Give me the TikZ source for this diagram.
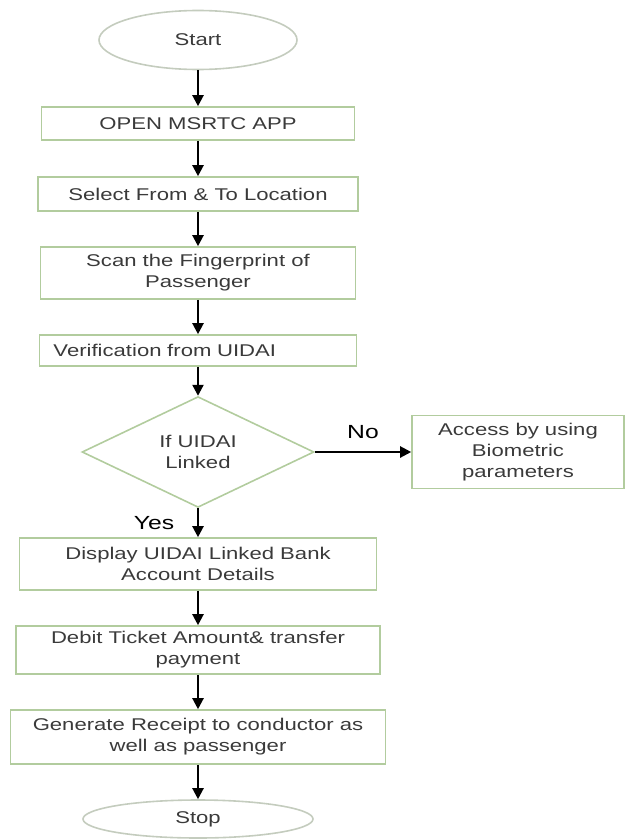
\documentclass[tikz,border=0pt]{standalone}
\usepackage{fontspec}
\setmainfont{Liberation Sans}[FakeStretch=1.3]
\usepackage{xcolor}
\usepackage{tikz}
\usetikzlibrary{shapes.geometric, arrows.meta, positioning}

\definecolor{boxline}{RGB}{178,204,158}
\definecolor{ovalline}{RGB}{196,204,190}
\definecolor{txtgray}{RGB}{58,58,58}

\begin{document}
\begin{tikzpicture}[
    x=0.5pt, y=-0.5pt,
    every node/.style={text=txtgray, font=\fontsize{8.5}{10.5}\selectfont},
    process/.style={rectangle, draw=boxline, line width=0.8pt, align=center, inner sep=2pt},
    terminal/.style={ellipse, draw=ovalline, line width=0.8pt, inner sep=0pt},
    decision/.style={diamond, draw=boxline, line width=0.8pt, inner sep=0pt, align=center},
    arrow/.style={-{Triangle[length=5.5pt, width=5.5pt]}, line width=1.1pt, black},
    lbl/.style={font=\fontsize{9.5}{11}\selectfont, text=black}
]
\useasboundingbox (0,0) rectangle (627,840);

\node[terminal, minimum width=99pt, minimum height=29.5pt] (start) at (198,40) {Start};
\node[process, minimum width=156.5pt, minimum height=16.5pt] (open) at (198,123.5) {OPEN MSRTC APP};
\node[process, minimum width=160pt, minimum height=17pt] (select) at (198,194) {Select From \& To Location};
\node[process, minimum width=157.5pt, minimum height=26pt] (scan) at (198,273) {Scan the Fingerprint of\\Passenger};
\node[process, minimum height=15.5pt, text width=144.5pt, inner xsep=7pt, align=left] (verify) at (198,350.5) {Verification from UIDAI};
\node[decision, minimum width=116pt, minimum height=49pt] (linked) at (198,452) {If UIDAI\\Linked};
\node[process, minimum width=106pt, minimum height=36.5pt] (access) at (518,452) {Access by using\\Biometric\\parameters};
\node[process, minimum width=178.5pt, minimum height=26pt] (display) at (198,564) {Display UIDAI Linked Bank\\Account Details};
\node[process, minimum width=182pt, minimum height=24pt] (debit) at (198,650) {Debit Ticket Amount\& transfer\\payment};
\node[process, minimum width=187.5pt, minimum height=27pt] (receipt) at (198,737) {Generate Receipt to conductor as\\well as passenger};
\node[terminal, minimum width=115pt, minimum height=19pt] (stop) at (198,819) {Stop};

\draw[arrow] (start) -- (open);
\draw[arrow] (open) -- (select);
\draw[arrow] (select) -- (scan);
\draw[arrow] (scan) -- (verify);
\draw[arrow] (verify) -- (linked);
\draw[arrow] (linked) -- node[lbl, above=3pt]{No} (access);
\draw[arrow] (linked) -- node[lbl, left=8pt]{Yes} (display);
\draw[arrow] (display) -- (debit);
\draw[arrow] (debit) -- (receipt);
\draw[arrow] (receipt) -- (stop);

\end{tikzpicture}
\end{document}
